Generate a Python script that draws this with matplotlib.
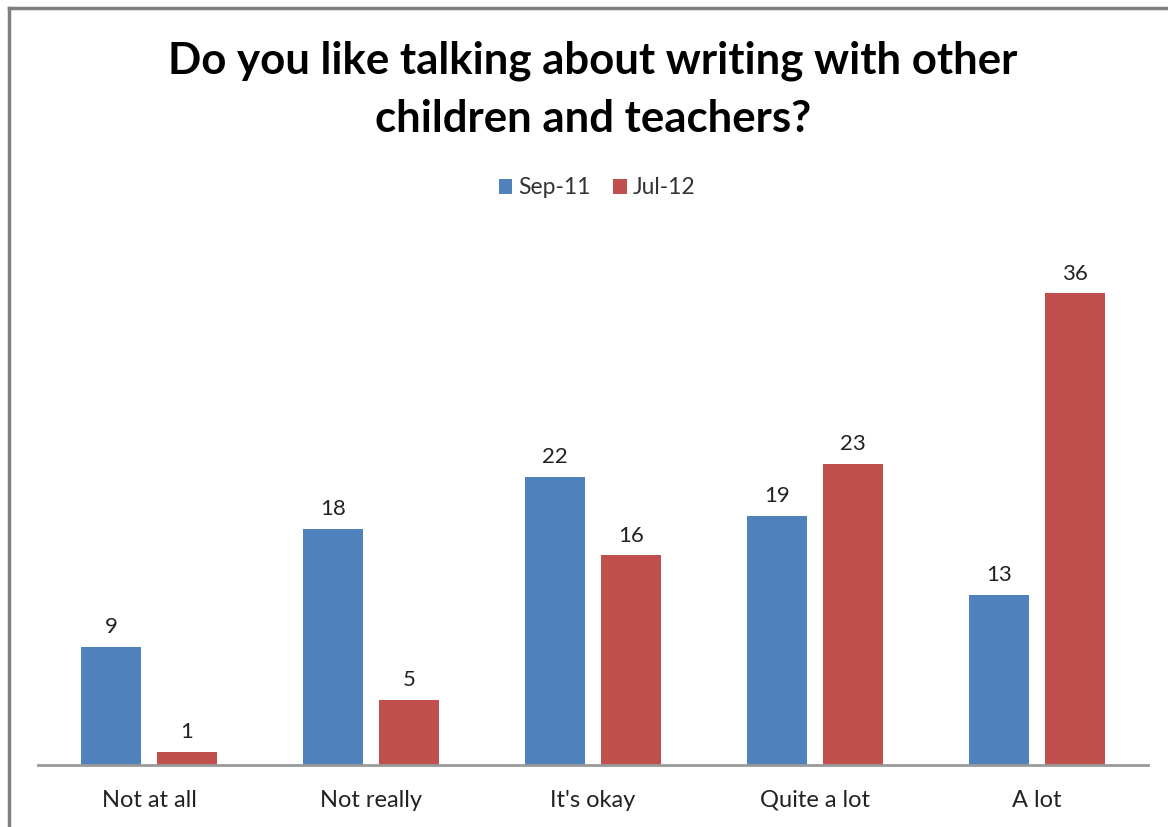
import matplotlib
matplotlib.use("Agg")
import matplotlib.pyplot as plt
from matplotlib.lines import Line2D
import numpy as np

categories = ["Not at all", "Not really", "It's okay", "Quite a lot", "A lot"]
series_names = ["Sep-11", "Jul-12"]
sep11 = [9, 18, 22, 19, 13]
jul12 = [1, 5, 16, 23, 36]
title = "Do you like talking about writing with other\nchildren and teachers?"

plt.rcParams['font.family'] = ['Lato', 'DejaVu Sans']

W, H = 1168, 827
fig = plt.figure(figsize=(W / 100, H / 100), dpi=100)

# axes placement in pixels
x0, x1 = 38, 1148
ybase, ytop = 765, 241
ax = fig.add_axes([x0 / W, 1 - ybase / H, (x1 - x0) / W, (ybase - ytop) / H])

x = np.arange(len(categories))
width = 0.27
off = 0.17
blue = "#4F81BD"
red = "#C0504D"
b1 = ax.bar(x - off, sep11, width, color=blue, label=series_names[0])
b2 = ax.bar(x + off, jul12, width, color=red, label=series_names[1])

for bars in (b1, b2):
    for r in bars:
        ax.annotate(f"{int(r.get_height())}", (r.get_x() + r.get_width() / 2, r.get_height()),
                    xytext=(0, 7), textcoords="offset points", ha="center", va="bottom",
                    fontsize=16, color="#222222")

ax.set_xlim(-0.5, len(categories) - 0.5)
ax.set_ylim(0, 40)
ax.set_xticks(x)
ax.set_xticklabels(categories, fontsize=17, color="#222222")
ax.tick_params(axis='x', length=0, pad=18)
ax.set_yticks([])
for s in ("top", "right", "left"):
    ax.spines[s].set_visible(False)
ax.spines["bottom"].set_color("#999999")
ax.spines["bottom"].set_linewidth(2)

fig.text(593 / W, 1 - 90 / H, title, ha="center", va="center", fontsize=31.5,
         fontweight="bold", linespacing=1.55, color="black")

leg = fig.legend(handles=[b1, b2], labels=series_names, loc="center",
                 bbox_to_anchor=(597 / W, 1 - 188 / H), ncol=2, frameon=False,
                 fontsize=16.5, handlelength=0.6, handleheight=0.6, handletextpad=0.25,
                 columnspacing=1.0)
for t in leg.get_texts():
    t.set_color("#333333")

# outer chart frame (left and top edges visible)
fig.add_artist(Line2D([9 / W, 9 / W], [0, 1 - 8 / H], transform=fig.transFigure,
                      color="#808080", linewidth=2.5))
fig.add_artist(Line2D([9 / W, 1], [1 - 8 / H, 1 - 8 / H], transform=fig.transFigure,
                      color="#808080", linewidth=2.5))

fig.savefig("out.png", dpi=100)
